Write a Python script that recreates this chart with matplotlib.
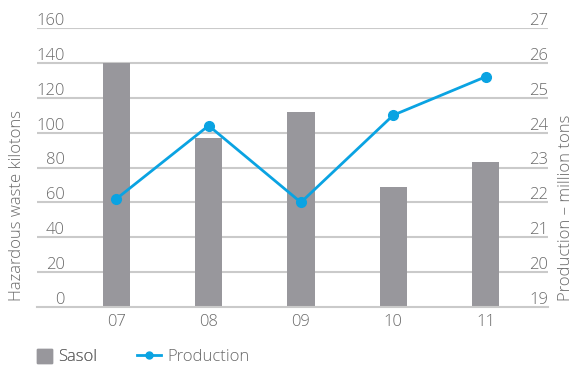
import matplotlib
matplotlib.use("Agg")
import matplotlib.pyplot as plt
import matplotlib.transforms as mtransforms
from matplotlib.lines import Line2D
from matplotlib.patches import Patch

# data
years = ["07", "08", "09", "10", "11"]
waste_kt = [140, 97, 112, 69, 83]
production_mt = [22.1, 24.2, 22.0, 24.5, 25.6]
left_ticks = [0, 20, 40, 60, 80, 100, 120, 140, 160]
right_ticks = [19, 20, 21, 22, 23, 24, 25, 26, 27]

BAR = "#98979c"
BLUE = "#0aa3e2"
GRID = "#cacaca"
TEXT = "#6a6a6a"
FONT = "Open Sans"
FS = 12

plt.rcParams["font.family"] = [FONT, "DejaVu Sans"]
plt.rcParams["font.weight"] = "light"

W, H = 573, 365
fig = plt.figure(figsize=(W / 100, H / 100), dpi=100)
ax = fig.add_axes([36.5 / W, 58 / H, 511.5 / W, 279 / H])
ax2 = ax.twinx()

x = list(range(len(years)))
ax.bar(x, waste_kt, width=0.295, color=BAR, zorder=2)
ax2.plot(x, production_mt, color=BLUE, lw=2.0, marker="o", ms=7, zorder=3)

ax.set_xlim(-0.865, 4.677)
ax.set_ylim(0, 160)
ax2.set_ylim(19, 27)

for a in (ax, ax2):
    for s in a.spines.values():
        s.set_visible(False)
    a.set_yticks([])
ax.spines["bottom"].set_visible(True)
ax.spines["bottom"].set_color(GRID)
ax.spines["bottom"].set_linewidth(1.5)

for v in left_ticks[1:]:
    ax.axhline(v, color=GRID, lw=1.5, zorder=1)

ax.set_xticks(x)
ax.set_xticklabels(years)
ax.tick_params(axis="x", length=0, pad=5, labelsize=FS, labelcolor=TEXT)

# tick labels sit just above the gridlines, inside the plot
lt = mtransforms.offset_copy(ax.get_yaxis_transform(), fig=fig, y=3, units="dots")
for v in left_ticks:
    ax.text(0.0557, v, str(v), transform=lt, ha="right", va="baseline",
            fontsize=FS, color=TEXT)
rt = mtransforms.offset_copy(ax2.get_yaxis_transform(), fig=fig, y=3, units="dots")
for v in right_ticks:
    ax2.text(1.0, v, str(v), transform=rt, ha="right", va="baseline",
             fontsize=FS, color=TEXT)

fig.text(17 / W, 1 - 301 / H, "Hazardous waste kilotons", rotation=90,
         ha="center", va="bottom", fontsize=FS, color=TEXT)
fig.text(566 / W, 1 - 301 / H, "Production \u2013 million tons", rotation=90,
         ha="center", va="bottom", fontsize=FS, color=TEXT)

# two legends so each handle gets its own length
leg1 = fig.legend(handles=[Patch(color=BAR, label="Sasol")], loc="center left",
                  bbox_to_anchor=(36.5 / W, 1 - 357 / H), frameon=False,
                  fontsize=FS, labelcolor=TEXT, borderpad=0, borderaxespad=0,
                  handlelength=0.9, handleheight=0.9, handletextpad=0.4)
fig.add_artist(leg1)
fig.legend(handles=[Line2D([], [], color=BLUE, lw=2, marker="o", ms=5, label="Production")],
           loc="center left", bbox_to_anchor=(137 / W, 1 - 357 / H), frameon=False,
           fontsize=FS, labelcolor=TEXT, borderpad=0, borderaxespad=0,
           handlelength=1.45, handletextpad=0.4)

fig.savefig("out.png", dpi=100)
